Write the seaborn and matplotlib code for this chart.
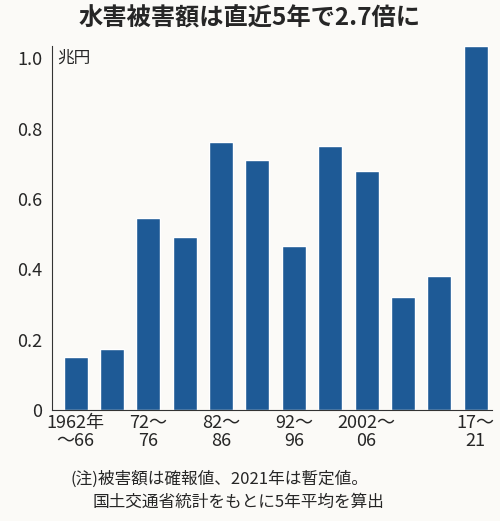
import matplotlib
matplotlib.use("Agg")
import matplotlib.pyplot as plt
import seaborn as sns
import pandas as pd

periods = ["1962-66","67-71","72-76","77-81","82-86","87-91","92-96","97-01","2002-06","07-11","12-16","17-21"]
values = [0.15, 0.173, 0.545, 0.493, 0.762, 0.71, 0.466, 0.75, 0.68, 0.32, 0.38, 1.034]
tick_labels = ["1962年\n～66", "", "72～\n76", "", "82～\n86", "", "92～\n96", "", "2002～\n06", "", "", "17～\n21"]
yticks = [0, 0.2, 0.4, 0.6, 0.8, 1.0]
ytick_labels = ["0", "0.2", "0.4", "0.6", "0.8", "1.0"]

sns.set_style("white")
plt.rcParams['font.family'] = ['Noto Sans CJK JP', 'DejaVu Sans']
bg = "#fbfaf7"
fig = plt.figure(figsize=(5.0, 5.21), dpi=100, facecolor=bg)
ax = fig.add_axes([0.104, 0.213, 0.88, 0.699], facecolor=bg)
df = pd.DataFrame({"p": periods, "v": values})
sns.barplot(data=df, x="p", y="v", color="#1e5a96", saturation=1, width=0.66, ax=ax)
ax.set_ylim(0, 1.035)
ax.set_xlim(-0.65, 11.45)
ax.set_yticks(yticks)
ax.set_yticklabels(ytick_labels, fontsize=13)
ax.set_xticks(range(len(periods)))
ax.set_xticklabels(tick_labels, fontsize=13, linespacing=1.0)
ax.tick_params(axis="y", length=5, width=1, color="#333333", pad=2)
ax.tick_params(axis="x", length=0, pad=3)
for s in ["top", "right"]:
    ax.spines[s].set_visible(False)
for s in ["left", "bottom"]:
    ax.spines[s].set_color("#333333")
ax.set_xlabel(""); ax.set_ylabel("")
ax.text(-0.5, 1.0, "兆円", fontsize=12, va="center", ha="left")
fig.text(0.5, 0.965, "水害被害額は直近5年で2.7倍に", fontsize=17.5, fontweight="bold", ha="center", va="center")
fig.text(0.14, 0.08, "(注)被害額は確報値、2021年は暫定値。", fontsize=12, ha="left", va="center")
fig.text(0.185, 0.035, "国土交通省統計をもとに5年平均を算出", fontsize=12, ha="left", va="center")
fig.savefig("out.png", dpi=100, facecolor=bg)
